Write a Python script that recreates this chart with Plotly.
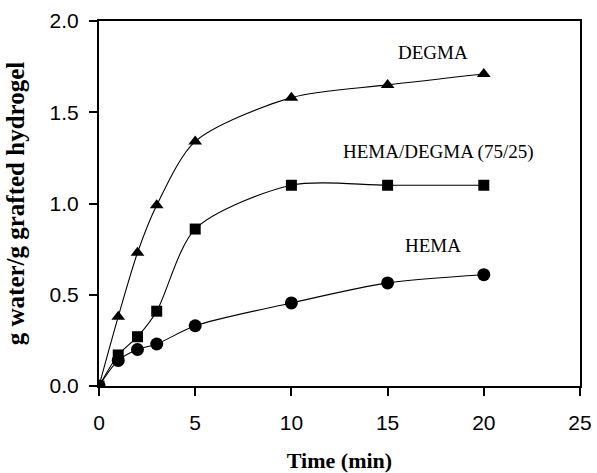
import plotly.graph_objects as go

time_min = [0, 1, 2, 3, 5, 10, 15, 20]
degma = [0.0, 0.38, 0.73, 0.99, 1.34, 1.58, 1.65, 1.71]
hema_degma = [0.0, 0.17, 0.27, 0.41, 0.86, 1.10, 1.10, 1.10]
hema = [0.0, 0.14, 0.20, 0.23, 0.33, 0.455, 0.565, 0.61]

series_names = ["DEGMA", "HEMA/DEGMA (75/25)", "HEMA"]
series_values = [degma, hema_degma, hema]
series_symbols = ["triangle-up", "square", "circle"]
symbol_sizes = [12, 11, 13]

label_x = [17.36, 17.67, 17.36]
label_y = [1.825, 1.28, 0.77]

fig = go.Figure()
for name, vals, sym, sz in zip(series_names, series_values, series_symbols, symbol_sizes):
    fig.add_trace(go.Scatter(
        x=time_min, y=vals, mode="lines+markers", name=name,
        line=dict(color="black", width=1.1, shape="spline", smoothing=0.8),
        marker=dict(symbol=sym, size=sz, color="black"),
        showlegend=False,
    ))

for name, lx, ly in zip(series_names, label_x, label_y):
    fig.add_annotation(x=lx, y=ly, text=name, showarrow=False,
                       font=dict(family="Liberation Serif", size=19, color="black"))

axis_common = dict(
    showgrid=False, zeroline=False, showline=True, linecolor="black",
    linewidth=2, mirror=True, ticks="outside", tickcolor="black",
    ticklen=8, tickwidth=1.5, automargin=False,
    tickfont=dict(family="Liberation Sans", size=21, color="black"),
)

fig.update_xaxes(range=[0, 25], tickvals=[0, 5, 10, 15, 20, 25],
                 ticklabelstandoff=9,
                 title=dict(text="<b>Time (min)</b>", standoff=20,
                            font=dict(family="Liberation Serif", size=22, color="black")),
                 **axis_common)
fig.update_yaxes(range=[0, 2.0], tickvals=[0, 0.5, 1.0, 1.5, 2.0],
                 tickformat=".1f", ticklabelstandoff=6,
                 title=dict(text="<b>g water/g grafted hydrogel</b>", standoff=18,
                            font=dict(family="Liberation Serif", size=25, color="black")),
                 **axis_common)

fig.update_layout(
    width=597, height=473,
    margin=dict(l=99, r=17, t=21, b=87),
    plot_bgcolor="white", paper_bgcolor="white",
)

fig.write_html("out.html")
